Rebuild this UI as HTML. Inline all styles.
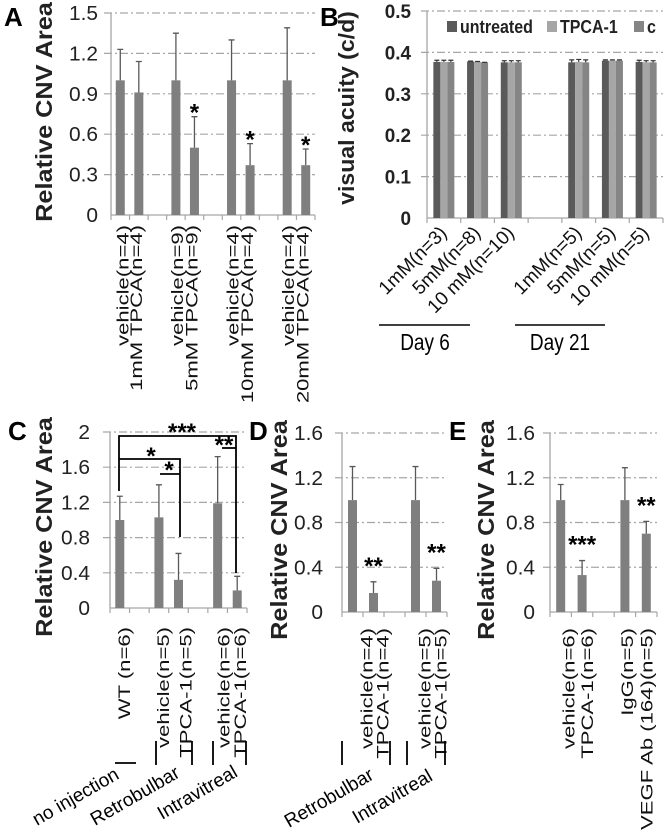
<!DOCTYPE html>
<html><head><meta charset="utf-8">
<style>
html,body{margin:0;padding:0;background:#fff;}
svg{display:block;font-family:"Liberation Sans",Arial,sans-serif;}
</style></head>
<body>
<svg id="fig" width="669" height="833" viewBox="0 0 669 833" xmlns="http://www.w3.org/2000/svg"></svg>
<script>
// ---- Panel A data ----
const aCats = ["vehicle(n=4)","1mM TPCA(n=4)","","vehicle(n=9)","5mM TPCA(n=9)","","vehicle(n=4)","10mM TPCA(n=4)","","vehicle(n=4)","20mM TPCA(n=4)"];
const aVals = [1.0,0.91,null,1.0,0.5,null,1.0,0.37,null,1.0,0.37];
const aErrs = [0.23,0.23,null,0.35,0.23,null,0.30,0.16,null,0.39,0.12];
const aStars = ["","","","","*","","","*","","","*"];
const aTicks = ["0","0.3","0.6","0.9","1.2","1.5"];
// ---- Panel B data ----
const bCats = ["1mM(n=3)","5mM(n=8)","10 mM(n=10)","","1mM(n=5)","5mM(n=5)","10 mM(n=5)"];
const bSeries = ["untreated","TPCA-1","c"];
const bUntreated = [0.377,0.378,0.376,null,0.376,0.380,0.377];
const bTPCA = [0.377,0.377,0.376,null,0.377,0.380,0.376];
const bC = [0.377,0.376,0.376,null,0.376,0.380,0.376];
const bErrU = [0.004,0.001,0.004,null,0.006,0.002,0.004];
const bErrT = [0.004,0.001,0.004,null,0.006,0.002,0.004];
const bErrC = [0.004,0.000,0.004,null,0.006,0.002,0.004];
const bTicks = ["0","0.1","0.2","0.3","0.4","0.5"];
// ---- Panel C data ----
const cCats = ["WT (n=6)","","vehicle(n=5)","TPCA-1(n=5)","","vehicle(n=6)","TPCA-1(n=6)"];
const cVals = [1.0,null,1.03,0.32,null,1.19,0.2];
const cErrs = [0.27,null,0.37,0.30,null,0.53,0.16];
const cTicks = ["0","0.4","0.8","1.2","1.6","2"];
// ---- Panel D data ----
const dCats = ["vehicle(n=4)","TPCA-1(n=4)","","vehicle(n=5)","TPCA-1(n=5)"];
const dVals = [1.0,0.17,null,1.0,0.28];
const dErrs = [0.30,0.10,null,0.30,0.11];
const dStars = ["","**","","","**"];
const dTicks = ["0","0.4","0.8","1.2","1.6"];
// ---- Panel E data ----
const eCats = ["vehicle(n=6)","TPCA-1(n=6)","","IgG(n=5)","VEGF Ab (164)(n=5)"];
const eVals = [1.0,0.33,null,1.0,0.7];
const eErrs = [0.14,0.13,null,0.29,0.11];
const eStars = ["","***","","","**"];
const eTicks = ["0","0.4","0.8","1.2","1.6"];

const NS="http://www.w3.org/2000/svg";
const svg=document.getElementById('fig');
function mk(tag,attrs,parent,text){const e=document.createElementNS(NS,tag);for(const k in attrs)e.setAttribute(k,attrs[k]);if(text!==undefined)e.textContent=text;(parent||svg).appendChild(e);return e;}
function grp(name){const g=mk('g',{});return g;}

const BAR="#7f7f7f", ERR="#595959", GRID="#a6a6a6";

function panel(o){
  const g=grp(o.name);
  const y=v=>o.y0-(v/o.max)*(o.y0-o.y1);
  const n=o.cats.length, cw=(o.x1-o.x0)/n;
  const x=i=>o.x0+cw*(i+0.5);
  o.ticks.forEach((t,i)=>{
    const v=parseFloat(t), yy=y(v);
    if(v>0){const l=mk('line',{x1:o.x0-7,x2:o.x1,y1:yy,y2:yy,stroke:GRID,'stroke-width':1.2,'stroke-dasharray':'8,3,2,3'},g);}
    const tx=mk('text',{x:0,y:0,transform:`translate(${o.labX},${yy+7}) scale(1.1,1.05)`,'text-anchor':'end','font-size':19,fill:'#222'},g,t);
    
  });
  mk('line',{x1:o.x0,x2:o.x0,y1:o.y1,y2:o.y0,stroke:GRID,'stroke-width':1.3},g);
  mk('line',{x1:o.x0,x2:o.x1,y1:o.y0,y2:o.y0,stroke:GRID,'stroke-width':1.3},g);
  for(let i=0;i<=n;i++)mk('line',{x1:o.x0+cw*i,x2:o.x0+cw*i,y1:o.y0,y2:o.y0+5,stroke:GRID,'stroke-width':1.2},g);
  o.vals.forEach((v,i)=>{
    if(v===null)return;
    const b=mk('rect',{x:x(i)-o.bw/2,y:y(v),width:o.bw,height:o.y0-y(v),fill:BAR},g);
    
    const e=o.errs[i], ye=y(v+e);
    const el=mk('path',{d:`M${x(i)} ${y(v)}V${ye}M${x(i)-3} ${ye}H${x(i)+3}`,stroke:ERR,'stroke-width':1.3,fill:'none'},g);
    
    if(o.stars&&o.stars[i]){const s=mk('text',{x:x(i),y:ye+o.starDy,'text-anchor':'middle','font-size':24,'font-weight':'bold'},g,o.stars[i]);}
  });
  o.cats.forEach((c,i)=>{
    if(!c)return;
    const lx=x(i)+o.labOff[i];
    const t=mk('text',{x:0,y:0,transform:`translate(${lx},${o.catTop}) rotate(-90) scale(1.3,1)`,'text-anchor':'end','font-size':17,fill:'#111'},g,c);
    
  });
  const yt=mk('text',{x:0,y:0,transform:`translate(${o.titleX},${o.titleY}) rotate(-90) scale(1.1,1)`,'text-anchor':'middle','font-size':23,'font-weight':'bold',fill:'#222'},g,o.title);
  
  const L=mk('text',{x:o.letX,y:o.letY,'font-size':26,'font-weight':'bold'},g,o.letter);
  
  return {x,y,g};
}

panel({name:'panel-a',cats:aCats,vals:aVals,errs:aErrs,stars:aStars,ticks:aTicks,max:1.5,
  x0:111,x1:315,y0:215,y1:13,bw:9,labX:98,labOff:[8,3,0,7,3,0,7,3,0,7,3],catTop:225,
  title:'Relative CNV Area',titleX:52,titleY:112,letter:'A',letX:4,letY:26,starDy:4});
panel({name:'panel-c',cats:cCats,vals:cVals,errs:cErrs,ticks:cTicks,max:2,
  x0:110,x1:247,y0:608,y1:432,bw:9,labX:90,labOff:[10,0,10,13,0,12,9],catTop:627,
  title:'Relative CNV Area',titleX:52,titleY:527,letter:'C',letX:8,letY:440});
panel({name:'panel-d',cats:dCats,vals:dVals,errs:dErrs,stars:dStars,ticks:dTicks,max:1.6,
  x0:342,x1:447,y0:612,y1:433,bw:9,labX:323,labOff:[20,15,0,15,10],catTop:628,
  title:'Relative CNV Area',titleX:287,titleY:530,letter:'D',letX:249,letY:440,starDy:-8});
panel({name:'panel-e',cats:eCats,vals:eVals,errs:eErrs,stars:eStars,ticks:eTicks,max:1.6,
  x0:550,x1:657,y0:612,y1:433,bw:9,labX:535,labOff:[14,11,0,8,6],catTop:628,
  title:'Relative CNV Area',titleX:494,titleY:530,letter:'E',letX:449,letY:440,starDy:-8});

(function(){
  const g=grp('panel-b');
  const x0=427,x1=663,y0=218,y1=11,max=0.5;
  const y=v=>y0-(v/max)*(y0-y1);
  const n=bCats.length,cw=(x1-x0)/n;
  const cx=i=>x0+cw*(i+0.5);
  bTicks.forEach(t=>{const v=parseFloat(t),yy=y(v);
    if(v>0)mk('line',{x1:x0-6,x2:x1,y1:yy,y2:yy,stroke:GRID,'stroke-width':1.2,'stroke-dasharray':'8,3,2,3'},g);
    const tx=mk('text',{x:0,y:0,transform:`translate(411,${yy+7}) scale(1.05,1.1)`,'text-anchor':'end','font-size':18,'font-weight':'bold',fill:'#222'},g,t);
    });
  mk('line',{x1:x0,x2:x0,y1:y1,y2:y0,stroke:GRID,'stroke-width':1.3},g);
  mk('line',{x1:x0,x2:x1,y1:y0,y2:y0,stroke:GRID,'stroke-width':1.3},g);
  for(let i=0;i<=n;i++)mk('line',{x1:x0+cw*i,x2:x0+cw*i,y1:y0,y2:y0+5,stroke:GRID,'stroke-width':1.2},g);
  const series=[bUntreated,bTPCA,bC],errs=[bErrU,bErrT,bErrC],cols=["#5a5a5a","#a6a6a6","#858585"];
  const bw=7;
  series.forEach((s,k)=>s.forEach((v,i)=>{
    if(v===null)return;
    const bx=cx(i)+(k-1)*bw;
    const r=mk('rect',{x:bx-bw/2,y:y(v),width:bw,height:y0-y(v),fill:cols[k]},g);
    
    
    const ye=y(v+errs[k][i]);
    mk('path',{d:`M${bx} ${y(v)}V${ye}M${bx-2.5} ${ye}H${bx+2.5}`,stroke:'#333','stroke-width':1.2},g);
  }));
  bCats.forEach((c,i)=>{if(!c)return;
    const t=mk('text',{x:0,y:0,transform:`translate(${cx(i)+4},${234}) rotate(-45)`,'text-anchor':'end','font-size':19,fill:'#111'},g,c);
    });
  const lx=[447,547,634];
  bSeries.forEach((s,k)=>{
    const r=mk('rect',{x:lx[k],y:21,width:10,height:11,fill:cols[k]},g);
    
    const t=mk('text',{x:0,y:0,transform:`translate(${lx[k]+13},33) scale(1,1.15)`,'font-size':16,'font-weight':'bold',fill:'#222'},g,s);
    });
  mk('line',{x1:379,x2:470,y1:325,y2:325,stroke:'#000','stroke-width':1.6},g);
  mk('line',{x1:515,x2:605,y1:325,y2:325,stroke:'#000','stroke-width':1.6},g);
  const d6=mk('text',{x:0,y:0,transform:'translate(425,350) scale(1,1.2)','text-anchor':'middle','font-size':19},g,'Day 6');
  
  const d21=mk('text',{x:0,y:0,transform:'translate(560,350) scale(1,1.2)','text-anchor':'middle','font-size':19},g,'Day 21');
  
  const yt=mk('text',{x:0,y:0,transform:'translate(354,108) rotate(-90) scale(1.05,1)','text-anchor':'middle','font-size':22,'font-weight':'bold',fill:'#222'},g,'visual acuity (c/d)');
  
  const L=mk('text',{x:320,y:26,'font-size':26,'font-weight':'bold'},g,'B');
  

  const bg=grp('significance-brackets');
  const P=(d)=>mk('path',{d:d,stroke:'#000','stroke-width':1.8,fill:'none'},bg);
  P('M119 491V436H236V573');
  P('M222 448H236');
  P('M119 459H180V537');
  P('M160 474H180');
  const st=(x,yy,s)=>{const t=mk('text',{x:x,y:yy,'text-anchor':'middle','font-size':24,'font-weight':'bold'},bg,s);};
  st(182,440,'***');st(224,453,'**');st(151,464,'*');st(169,478,'*');
  const sg=grp('group-separators');
  const S=(d)=>mk('path',{d:d,stroke:'#000','stroke-width':1.8,fill:'none'},sg);
  S('M115 763H136');S('M156 741V765');S('M192 741V765');S('M213 741V765');S('M246 741V765');
  S('M342 741V765');S('M390 741V765');S('M407 741V765');S('M445 741V765');
  const gl=(x,yy,s)=>{const t=mk('text',{x:0,y:0,transform:`translate(${x},${yy}) rotate(-30)`,'font-size':19},sg,s);};
  gl(37,826,'no injection');gl(95,826,'Retrobulbar');gl(162,820,'Intravitreal');
  gl(289,828,'Retrobulbar');gl(357,824,'Intravitreal');
})();
</script>
</body></html>
